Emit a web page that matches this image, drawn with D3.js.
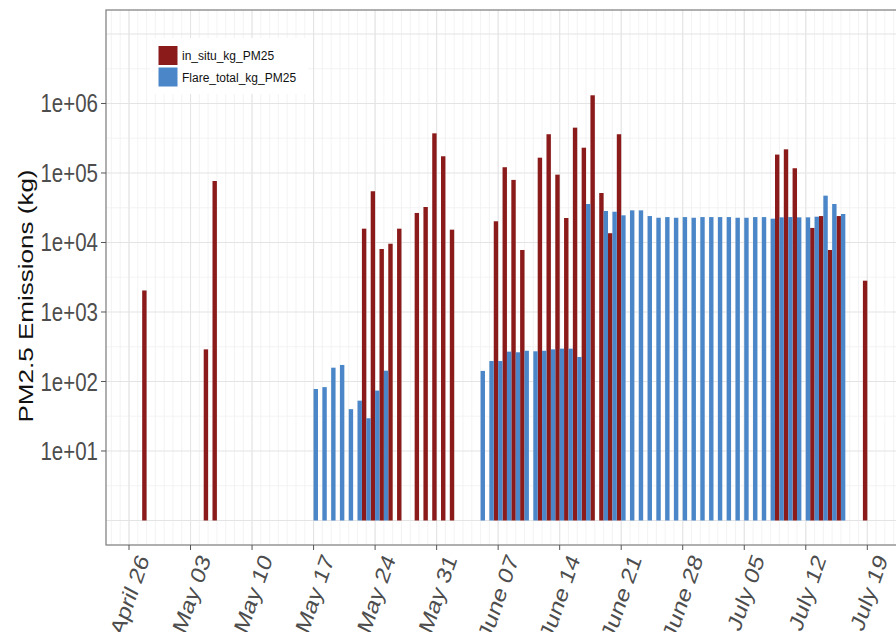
<!DOCTYPE html>
<html>
<head>
<meta charset="utf-8">
<script src="https://cdn.jsdelivr.net/npm/d3@7"></script>
<style>
  body { margin: 0; background: #fff; }
  text { font-family: "Liberation Sans", Arial, sans-serif; }
</style>
</head>
<body>
<svg id="chart" width="896" height="632"></svg>
<script>
// in situ burning, kg PM2.5 per day
var inSituDates = ["2010-04-28","2010-05-05","2010-05-06","2010-05-23","2010-05-24","2010-05-25",
  "2010-05-26","2010-05-27","2010-05-29","2010-05-30","2010-05-31","2010-06-01","2010-06-02",
  "2010-06-07","2010-06-08","2010-06-09","2010-06-10","2010-06-12","2010-06-13","2010-06-14",
  "2010-06-15","2010-06-16","2010-06-17","2010-06-18","2010-06-19","2010-06-20","2010-06-21",
  "2010-07-09","2010-07-10","2010-07-11","2010-07-13","2010-07-14","2010-07-15","2010-07-16",
  "2010-07-19"];
var inSituKg = [2040, 290, 76700, 15800, 54600, 8060,
  9600, 15800, 26600, 32400, 372000, 174000, 15300,
  20200, 121000, 79500, 7800, 166000, 361000, 94600,
  22500, 449000, 231000, 1312000, 51500, 13600, 361000,
  184000, 219000, 117000, 16200, 24000, 7800, 24000,
  2820];

// flaring total, kg PM2.5 per day
var flareDates = ["2010-05-17","2010-05-18","2010-05-19","2010-05-20","2010-05-21","2010-05-22",
  "2010-05-23","2010-05-24","2010-05-25","2010-06-05","2010-06-06","2010-06-07","2010-06-08",
  "2010-06-09","2010-06-10","2010-06-11","2010-06-12","2010-06-13","2010-06-14","2010-06-15",
  "2010-06-16","2010-06-17","2010-06-19","2010-06-20","2010-06-21","2010-06-22","2010-06-23",
  "2010-06-24","2010-06-25","2010-06-26","2010-06-27","2010-06-28","2010-06-29","2010-06-30",
  "2010-07-01","2010-07-02","2010-07-03","2010-07-04","2010-07-05","2010-07-06","2010-07-07",
  "2010-07-08","2010-07-09","2010-07-10","2010-07-11","2010-07-12","2010-07-13","2010-07-14",
  "2010-07-15","2010-07-16"];
var flareKg = [78, 83, 158, 173, 40, 53,
  29.6, 74, 143, 142, 197, 197, 269,
  263, 277, 272, 277, 290, 297, 297,
  225, 35800, 28400, 27700, 24600, 29000, 29000,
  24000, 22700, 23200, 22700, 23200, 22700, 23200,
  23200, 23200, 23200, 22700, 22700, 23200, 23200,
  22000, 23000, 23200, 23000, 23000, 23500, 47200,
  35800, 25700];

var tickLabels = ["April 26","May 03","May 10","May 17","May 24","May 31","June 07",
  "June 14","June 21","June 28","July 05","July 12","July 19"];
var yTickValues = [1e1, 1e2, 1e3, 1e4, 1e5, 1e6];
var yTickLabels = ["1e+01","1e+02","1e+03","1e+04","1e+05","1e+06"];
var seriesNames = ["in_situ_kg_PM25", "Flare_total_kg_PM25"];
var seriesColors = ["#8b1a1a", "#4a86c8"];

var parse = d3.utcParse("%Y-%m-%d");
var svg = d3.select("#chart");
var stretch = 1.22;   // the picture is a bit taller than it is wide

var panel = { left: 106, top: 10, right: 902, bottom: 545 };
var start = parse("2010-04-26"), end = parse("2010-07-19");

var x = d3.scaleUtc().domain([start, end]).range([129, 867.3]);
var y = d3.scaleLog().domain([Math.pow(10, -0.3525), Math.pow(10, 7.345)]).range([panel.bottom, panel.top]);
var bw = 4.4;

svg.append("rect").attr("width", 896).attr("height", 632).attr("fill", "#fff");

svg.append("clipPath").attr("id", "clip").append("rect")
  .attr("x", panel.left).attr("y", panel.top)
  .attr("width", panel.right - panel.left).attr("height", panel.bottom - panel.top);

var g = svg.append("g").attr("clip-path", "url(#clip)");

// grid: minor daily + half decades, major weekly + decades
var dayLines = d3.utcDay.range(x.invert(panel.left), x.invert(panel.right));
g.selectAll(".vminor").data(dayLines).enter().append("line")
  .attr("x1", function(d) { return x(d); }).attr("x2", function(d) { return x(d); })
  .attr("y1", panel.top).attr("y2", panel.bottom)
  .attr("stroke", "#f0f0f0").attr("stroke-width", 0.8);

var halfDecades = d3.range(0, 8).map(function(i) { return Math.pow(10, i + 0.5); });
g.selectAll(".hminor").data(halfDecades).enter().append("line")
  .attr("x1", panel.left).attr("x2", panel.right)
  .attr("y1", function(d) { return y(d); }).attr("y2", function(d) { return y(d); })
  .attr("stroke", "#f0f0f0").attr("stroke-width", 0.8);

var tickDates = d3.range(tickLabels.length).map(function(i) { return d3.utcDay.offset(start, 7 * i); });
g.selectAll(".vmajor").data(tickDates).enter().append("line")
  .attr("x1", function(d) { return x(d); }).attr("x2", function(d) { return x(d); })
  .attr("y1", panel.top).attr("y2", panel.bottom)
  .attr("stroke", "#e4e4e4").attr("stroke-width", 1.1);

var decades = d3.range(0, 8).map(function(i) { return Math.pow(10, i); });
g.selectAll(".hmajor").data(decades).enter().append("line")
  .attr("x1", panel.left).attr("x2", panel.right)
  .attr("y1", function(d) { return y(d); }).attr("y2", function(d) { return y(d); })
  .attr("stroke", "#e4e4e4").attr("stroke-width", 1.1);

// bars (red dodged left of the day, blue right)
var inSitu = inSituDates.map(function(d, i) { return { date: parse(d), v: inSituKg[i] }; });
var flare = flareDates.map(function(d, i) { return { date: parse(d), v: flareKg[i] }; });

g.selectAll(".insitu").data(inSitu).enter().append("rect")
  .attr("x", function(d) { return x(d.date) - bw; })
  .attr("width", bw)
  .attr("y", function(d) { return y(d.v); })
  .attr("height", function(d) { return y(1) - y(d.v); })
  .attr("fill", seriesColors[0]);

g.selectAll(".flare").data(flare).enter().append("rect")
  .attr("x", function(d) { return x(d.date); })
  .attr("width", bw)
  .attr("y", function(d) { return y(d.v); })
  .attr("height", function(d) { return y(1) - y(d.v); })
  .attr("fill", seriesColors[1]);

// panel border
svg.append("rect")
  .attr("x", panel.left).attr("y", panel.top)
  .attr("width", panel.right - panel.left).attr("height", panel.bottom - panel.top)
  .attr("fill", "none").attr("stroke", "#858585").attr("stroke-width", 1.3);

// y axis
var yAx = svg.append("g");
yAx.selectAll("line").data(yTickValues).enter().append("line")
  .attr("x1", panel.left - 5).attr("x2", panel.left)
  .attr("y1", function(d) { return y(d); }).attr("y2", function(d) { return y(d); })
  .attr("stroke", "#555").attr("stroke-width", 1);
yAx.selectAll("text").data(yTickValues).enter().append("text")
  .attr("transform", function(d) { return "translate(98," + y(d) + ") scale(1," + stretch + ")"; })
  .attr("dy", "0.36em")
  .attr("text-anchor", "end")
  .attr("font-size", 20.5)
  .attr("fill", "#4d4d4d")
  .text(function(d, i) { return yTickLabels[i]; });

svg.append("text")
  .attr("transform", "translate(33,296) scale(1,1.24) rotate(-90)")
  .attr("text-anchor", "middle")
  .attr("font-size", 21)
  .attr("fill", "#111")
  .text("PM2.5 Emissions (kg)");

// x axis
var xAx = svg.append("g");
xAx.selectAll("line").data(tickDates).enter().append("line")
  .attr("x1", function(d) { return x(d); }).attr("x2", function(d) { return x(d); })
  .attr("y1", panel.bottom).attr("y2", panel.bottom + 5)
  .attr("stroke", "#555").attr("stroke-width", 1);
xAx.selectAll("text").data(tickDates).enter().append("text")
  .attr("transform", function(d) {
    return "translate(" + (x(d) + 14) + "," + (panel.bottom + 11) + ") scale(1," + stretch + ") rotate(-67)";
  })
  .attr("dy", "0.36em")
  .attr("text-anchor", "end")
  .attr("font-size", 20.5)
  .attr("fill", "#4d4d4d")
  .text(function(d, i) { return tickLabels[i]; });

// legend
var leg = svg.append("g");
leg.append("rect").attr("x", 150).attr("y", 38).attr("width", 158).attr("height", 56).attr("fill", "#fff");
seriesNames.forEach(function(name, i) {
  leg.append("rect").attr("x", 158).attr("y", 45.5 + i * 21.5).attr("width", 20).attr("height", 20)
    .attr("fill", seriesColors[i]).attr("stroke", "#fff").attr("stroke-width", 1);
  leg.append("text").attr("x", 182).attr("y", 56 + i * 21.5).attr("dy", "0.35em")
    .attr("font-size", 12).attr("fill", "#111").text(name);
});
</script>
</body>
</html>
